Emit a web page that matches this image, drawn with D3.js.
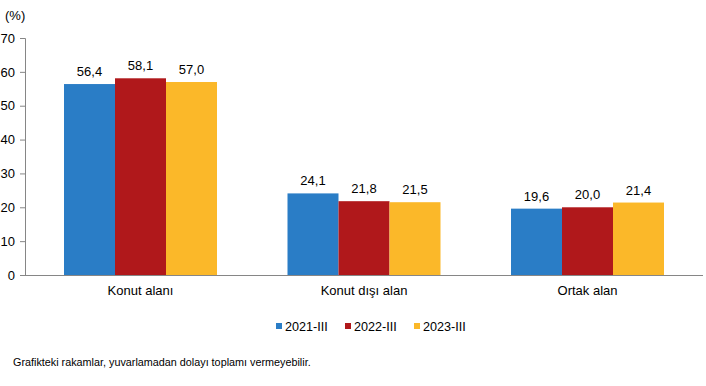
<!DOCTYPE html>
<html>
<head>
<meta charset="utf-8">
<script src="https://cdn.jsdelivr.net/npm/d3@7"></script>
<style>
  body { margin: 0; background: #fff; }
  text { font-family: "Liberation Sans", Arial, sans-serif; }
</style>
</head>
<body>
<div id="chart"></div>
<script>
var categories = ["Konut alanı", "Konut dışı alan", "Ortak alan"]
var seriesNames = ["2021-III", "2022-III", "2023-III"]
var values2021 = [56.4, 24.1, 19.6]
var values2022 = [58.1, 21.8, 20.0]
var values2023 = [57.0, 21.5, 21.4]
var yTicks = [0, 10, 20, 30, 40, 50, 60, 70]
var colors = ["#2a7dc6", "#b0181b", "#fbb829"]

var width = 706, height = 386
var margin = {top: 38, right: 3, bottom: 111, left: 25}

var series = [values2021, values2022, values2023]
var rows = categories.map((c, i) => ({cat: c, vals: series.map(s => s[i])}))

var svg = d3.select("#chart").append("svg")
	.attr("width", width)
	.attr("height", height)

var x = d3.scaleBand()
	.domain(categories)
	.range([28.75, 699.25])
	.paddingInner(0)
	.paddingOuter(0)

var x1 = d3.scaleBand()
	.domain(d3.range(seriesNames.length))
	.range([0, 153])

var y = d3.scaleLinear()
	.domain([0, 70])
	.range([height - margin.bottom, margin.top])

var fmt = v => v.toFixed(1).replace(".", ",")

// bars
var groups = svg.append("g").selectAll("g")
	.data(rows)
	.join("g")
	.attr("transform", d => `translate(${x(d.cat) + (x.bandwidth() - 153) / 2},0)`)

groups.selectAll("rect")
	.data(d => d.vals)
	.join("rect")
	.attr("x", (d, i) => x1(i))
	.attr("width", x1.bandwidth())
	.attr("y", d => y(d))
	.attr("height", d => y(0) - y(d))
	.attr("fill", (d, i) => colors[i])

groups.selectAll("text")
	.data(d => d.vals)
	.join("text")
	.attr("x", (d, i) => x1(i) + x1.bandwidth() / 2)
	.attr("y", d => y(d) - 8)
	.attr("text-anchor", "middle")
	.attr("font-size", 13)
	.attr("fill", "#000")
	.text(fmt)

// y axis
var yAxis = svg.append("g")
	.attr("transform", `translate(${margin.left},0)`)
	.call(d3.axisLeft(y).tickValues(yTicks).tickSize(5).tickPadding(5).tickFormat(d3.format("d")))
yAxis.select(".domain").attr("stroke", "#868686")
yAxis.selectAll(".tick line").attr("stroke", "#868686")
yAxis.selectAll(".tick text").attr("font-size", 13).attr("fill", "#000")
	.attr("font-family", "Liberation Sans, Arial, sans-serif")

// x axis
var xAxis = svg.append("g")
	.attr("transform", `translate(0,${y(0)})`)
	.call(d3.axisBottom(x).tickSize(0).tickPadding(11))
xAxis.select(".domain").attr("stroke", "#868686").attr("d", `M${margin.left},0.5H${width - 3}`)
xAxis.selectAll(".tick text").attr("font-size", 13).attr("fill", "#000")
	.attr("font-family", "Liberation Sans, Arial, sans-serif")

svg.append("text")
	.attr("x", 5)
	.attr("y", 20)
	.attr("font-size", 13)
	.text("(%)")

// legend
var legend = svg.append("g").selectAll("g")
	.data(seriesNames)
	.join("g")
	.attr("transform", (d, i) => `translate(${276 + i * 69},327)`)
legend.append("rect")
	.attr("x", 0)
	.attr("y", -4)
	.attr("width", 6)
	.attr("height", 6)
	.attr("fill", (d, i) => colors[i])
legend.append("text")
	.attr("x", 9)
	.attr("y", 0)
	.attr("dy", "0.35em")
	.attr("font-size", 12.6)
	.text(d => d)

svg.append("text")
	.attr("x", 13)
	.attr("y", 366)
	.attr("font-size", 10.8)
	.text("Grafikteki rakamlar, yuvarlamadan dolayı toplamı vermeyebilir.")
</script>
</body>
</html>
